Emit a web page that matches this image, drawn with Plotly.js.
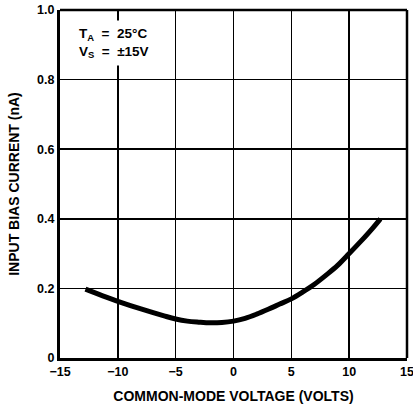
<!DOCTYPE html>
<html>
<head>
<meta charset="utf-8">
<script src="https://cdn.plot.ly/plotly-3.0.1.min.js"></script>
<style>html,body{margin:0;padding:0;background:#fff;}#chart{width:413px;height:409px;}</style>
</head>
<body>
<div id="chart"></div>
<script>
const voltage = [-12.8, -11, -10, -8, -6, -5, -4, -3, -2, -1, 0, 1, 2, 3, 4, 5, 6, 7, 8, 9, 10, 11, 12, 12.7];
const biasCurrent = [0.198, 0.175, 0.163, 0.141, 0.121, 0.112, 0.106, 0.103, 0.101, 0.102, 0.106, 0.114, 0.126, 0.140, 0.155, 0.170, 0.190, 0.212, 0.238, 0.266, 0.300, 0.335, 0.372, 0.400];
const xTickVals = [-15, -10, -5, 0, 5, 10, 15];
const xTickText = ['\u221215', '\u221210', '\u22125', '0', '5', '10', '15'];
const yTickVals = [0, 0.2, 0.4, 0.6, 0.8, 1.0];
const yTickText = ['0', '0.2', '0.4', '0.6', '0.8', '1.0'];

const font = 'Liberation Sans, Arial, Helvetica, sans-serif';
const trace = {
  x: voltage, y: biasCurrent, type: 'scatter', mode: 'lines',
  line: {color: '#000', width: 5, shape: 'spline'}, hoverinfo: 'none'
};
const layout = {
  width: 413, height: 409,
  margin: {l: 60, r: 6, t: 10, b: 51},
  paper_bgcolor: '#fff', plot_bgcolor: '#fff',
  showlegend: false,
  font: {family: font, color: '#000', size: 12},
  xaxis: {
    range: [-15, 15], tickvals: xTickVals, ticktext: xTickText,
    showgrid: true, gridcolor: '#000', gridwidth: 1.6, zeroline: false,
    showline: true, linecolor: '#000', linewidth: 3,
    ticks: '', ticklen: 0, ticklabeloverflow: 'allow',
    tickfont: {family: font, size: 12.5, color: '#000', weight: 'bold'},
    title: {text: '<b>COMMON-MODE VOLTAGE (VOLTS)</b>', font: {family: font, size: 14, color: '#000'}, standoff: 14}
  },
  yaxis: {
    range: [0, 1.0], tickvals: yTickVals, ticktext: yTickText,
    showgrid: true, gridcolor: '#000', gridwidth: 1.6, zeroline: false,
    showline: true, linecolor: '#000', linewidth: 3,
    ticks: '', ticklen: 0,
    tickfont: {family: font, size: 12.5, color: '#000', weight: 'bold'},
    title: {text: '<b>INPUT BIAS CURRENT (nA)</b>', font: {family: font, size: 14, color: '#000'}, standoff: 15}
  },
  shapes: [
    {type: 'line', xref: 'paper', yref: 'paper', x0: 0, x1: 1, y0: 1, y1: 1, line: {color: '#000', width: 2.5}},
    {type: 'line', xref: 'paper', yref: 'paper', x0: 1, x1: 1, y0: 0, y1: 1, line: {color: '#000', width: 2.5}}
  ],
  annotations: [{
    xref: 'x', yref: 'y', x: -13.9, y: 0.97, xanchor: 'left', yanchor: 'top',
    align: 'left', showarrow: false, bgcolor: '#fff', borderpad: 5,
    text: '<b>T<sub>A</sub>  =  25°C<br>V<sub>S</sub>  =  ±15V</b>',
    font: {family: font, size: 13.5, color: '#000'}
  }]
};
Plotly.newPlot('chart', [trace], layout, {staticPlot: true, displayModeBar: false});
</script>
</body>
</html>
